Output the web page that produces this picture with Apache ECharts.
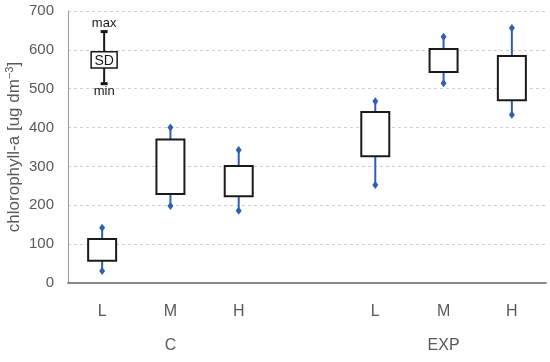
<!DOCTYPE html>
<html>
<head>
<meta charset="utf-8">
<script src="https://cdn.jsdelivr.net/npm/echarts@6/dist/echarts.min.js"></script>
<style>html,body{margin:0;padding:0;background:#fff}#c{width:550px;height:362px}</style>
</head>
<body>
<div id="c"></div>
<script>
// categories (empty slot separates the two groups)
var categories = ['L', 'M', 'H', '', 'L', 'M', 'H'];
var groupLabels = ['', 'C', '', '', '', 'EXP', ''];
// values per category index: min, lower SD, upper SD, max
var catIndex = [0, 1, 2, 4, 5, 6];
var minVals = [31, 198, 186, 252, 514, 433];
var sdLow   = [57, 229, 223, 326, 543, 470];
var sdHigh  = [113, 369, 301, 440, 602, 584];
var maxVals = [142, 400, 342, 468, 634, 656];
// legend key values (drawn at category 0)
var keyVals = [513, 553, 595, 647];
var yTicks = { min: 0, max: 700, interval: 100 };

var boxData = catIndex.map(function (c, i) {
  return [c, minVals[i], sdLow[i], sdHigh[i], maxVals[i]];
});

var blue = '#2f5fb3';
var gray = '#595959';

function renderBox(params, api) {
  var x = api.value(0);
  var pMin = api.coord([x, api.value(1)]);
  var pLow = api.coord([x, api.value(2)]);
  var pHigh = api.coord([x, api.value(3)]);
  var pMax = api.coord([x, api.value(4)]);
  var hw = api.size([1, 0])[0] * 0.41 / 2;
  var cx = pMin[0];
  function diamond(p) {
    return {
      type: 'polygon',
      shape: { points: [[p[0], p[1] - 4], [p[0] + 3, p[1]], [p[0], p[1] + 4], [p[0] - 3, p[1]]] },
      style: { fill: blue }
    };
  }
  return {
    type: 'group',
    children: [
      { type: 'line', shape: { x1: cx, y1: pHigh[1], x2: cx, y2: pMax[1] }, style: { stroke: blue, lineWidth: 2 } },
      { type: 'line', shape: { x1: cx, y1: pLow[1], x2: cx, y2: pMin[1] }, style: { stroke: blue, lineWidth: 2 } },
      diamond(pMax), diamond(pMin),
      { type: 'rect', shape: { x: cx - hw, y: pHigh[1], width: hw * 2, height: pLow[1] - pHigh[1] },
        style: { fill: '#fff', stroke: '#1a1a1a', lineWidth: 2 } }
    ]
  };
}

function renderKey(params, api) {
  var x = api.value(0);
  var pMin = api.coord([x, api.value(1)]);
  var pLow = api.coord([x, api.value(2)]);
  var pHigh = api.coord([x, api.value(3)]);
  var pMax = api.coord([x, api.value(4)]);
  var cx = pMin[0] + 2;
  var hw = 13;
  var font = 'Liberation Sans, Arial, sans-serif';
  return {
    type: 'group',
    children: [
      { type: 'line', shape: { x1: cx, y1: pMax[1], x2: cx, y2: pMin[1] }, style: { stroke: '#1a1a1a', lineWidth: 2 } },
      { type: 'rect', shape: { x: cx - 3.5, y: pMax[1] - 1.5, width: 7, height: 3 }, style: { fill: '#1a1a1a' } },
      { type: 'rect', shape: { x: cx - 3.5, y: pMin[1] - 1.5, width: 7, height: 3 }, style: { fill: '#1a1a1a' } },
      { type: 'rect', shape: { x: cx - hw, y: pHigh[1], width: hw * 2, height: pLow[1] - pHigh[1] },
        style: { fill: '#fff', stroke: '#1a1a1a', lineWidth: 1.5 } },
      { type: 'text', style: { x: cx, y: (pHigh[1] + pLow[1]) / 2 + 1, text: 'SD', align: 'center', verticalAlign: 'middle',
        fontSize: 14, fontFamily: font, fill: '#1a1a1a' } },
      { type: 'text', style: { x: cx, y: pMax[1] - 2, text: 'max', align: 'center', verticalAlign: 'bottom',
        fontSize: 13, fontFamily: font, fill: '#1a1a1a' } },
      { type: 'text', style: { x: cx, y: pMin[1] + 1, text: 'min', align: 'center', verticalAlign: 'top',
        fontSize: 13, fontFamily: font, fill: '#1a1a1a' } }
    ]
  };
}

var chart = echarts.init(document.getElementById('c'), null, { renderer: 'canvas' });
chart.setOption({
  animation: false,
  backgroundColor: '#fff',
  textStyle: { fontFamily: 'Liberation Sans, Arial, sans-serif' },
  grid: { left: 68, right: 4, top: 11, bottom: 79, containLabel: false, outerBoundsMode: 'none' },
  xAxis: [{
    type: 'category',
    data: categories,
    boundaryGap: true,
    axisLine: { show: true, lineStyle: { color: '#8a8a8a', width: 2 } },
    axisTick: { show: false },
    axisLabel: { color: gray, fontSize: 16, margin: 21, interval: 0 },
    splitLine: { show: false }
  }, {
    type: 'category',
    data: groupLabels,
    position: 'bottom',
    offset: 34,
    boundaryGap: true,
    axisLine: { show: false },
    axisTick: { show: false },
    axisLabel: { color: gray, fontSize: 16, margin: 21, interval: 0 },
    splitLine: { show: false }
  }],
  yAxis: {
    type: 'value',
    min: yTicks.min, max: yTicks.max, interval: yTicks.interval,
    name: '{m|chlorophyll-a [ug dm}{s|−3}{m|]}',
    nameLocation: 'middle',
    nameGap: 45,
    nameMoveOverlap: false,
    nameTextStyle: {
      rich: {
        m: { fontSize: 17, color: gray, lineHeight: 19, verticalAlign: 'bottom' },
        s: { fontSize: 11, color: gray, lineHeight: 19, verticalAlign: 'top' }
      }
    },
    axisLine: { show: true, lineStyle: { color: '#9a9a9a', width: 1 } },
    axisTick: { show: false },
    axisLabel: { color: gray, fontSize: 15, margin: 14 },
    splitLine: { show: true, lineStyle: { color: '#cfcfcf', type: [3, 3], width: 1 } }
  },
  series: [{
    type: 'custom',
    renderItem: renderBox,
    encode: { x: 0, y: [1, 2, 3, 4] },
    data: boxData,
    z: 3
  }, {
    type: 'custom',
    renderItem: renderKey,
    encode: { x: 0, y: [1, 2, 3, 4] },
    data: [[0].concat(keyVals)],
    z: 4
  }]
});
</script>
</body>
</html>
